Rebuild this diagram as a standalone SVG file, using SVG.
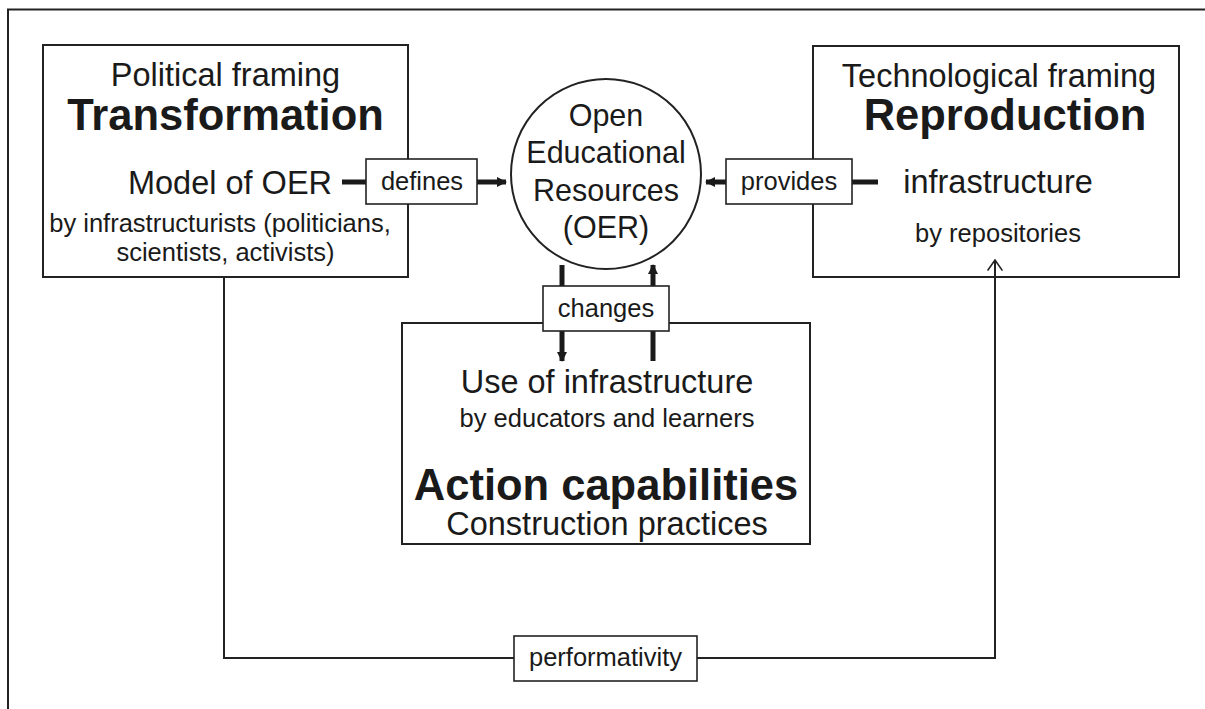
<svg xmlns="http://www.w3.org/2000/svg" width="1205" height="709" viewBox="0 0 1205 709">
  <defs>
    <style>
      text { font-family: "Liberation Sans", Arial, sans-serif; fill: #1a1a1a; text-anchor: middle; }
      .box { fill: #ffffff; stroke: #222222; stroke-width: 2; }
      .label { fill: #ffffff; stroke: #222222; stroke-width: 1.6; }
      .thick { fill: none; stroke: #1a1a1a; stroke-width: 5; }
      .thin { fill: none; stroke: #222222; stroke-width: 2; }
      .big { font-size: 43.5px; font-weight: bold; }
      .mid { font-size: 32.5px; }
      .small { font-size: 25.5px; }
    </style>
    <marker id="solidHead" viewBox="0 0 10 10" refX="9" refY="5" markerWidth="2" markerHeight="2.2" orient="auto" markerUnits="strokeWidth">
      <path d="M0,0 L10,5 L0,10 Z" fill="#1a1a1a"/>
    </marker>
    <marker id="openHead" viewBox="0 0 12 16" refX="11" refY="8" markerWidth="6.5" markerHeight="8.5" orient="auto" markerUnits="strokeWidth">
      <path d="M1,1 L11,8 L1,15" fill="none" stroke="#222222" stroke-width="1.5"/>
    </marker>
  </defs>

  <rect width="1205" height="709" fill="#ffffff"/>

  <!-- outer frame (top and left edges only) -->
  <path d="M8,709 L8,9.5 L1205,9.5" fill="none" stroke="#222222" stroke-width="2"/>

  <g id="political">
    <rect class="box" x="43" y="45" width="365" height="232"/>
    <text class="mid" x="225.5" y="86">Political framing</text>
    <text class="big" x="225.5" y="130">Transformation</text>
    <text class="mid" x="230" y="194">Model of OER</text>
    <text class="small" x="220" y="232">by infrastructurists (politicians,</text>
    <text class="small" x="225.5" y="261">scientists, activists)</text>
  </g>

  <g id="technological">
    <rect class="box" x="813" y="46" width="366" height="231"/>
    <text class="mid" x="999" y="87">Technological framing</text>
    <text class="big" x="1005" y="130">Reproduction</text>
    <text class="mid" x="998" y="193">infrastructure</text>
    <text class="small" x="998" y="242">by repositories</text>
  </g>

  <g id="oer">
    <circle cx="606" cy="174" r="95" fill="#ffffff" stroke="#222222" stroke-width="2"/>
    <text class="mid" x="606" y="126" style="font-size:30.5px">Open</text>
    <text class="mid" x="606" y="163" style="font-size:30.5px">Educational</text>
    <text class="mid" x="606" y="201" style="font-size:30.5px">Resources</text>
    <text class="mid" x="606" y="238" style="font-size:30.5px">(OER)</text>
  </g>

  <g id="action">
    <rect class="box" x="402" y="323" width="408" height="221"/>
    <text class="mid" x="607" y="393">Use of infrastructure</text>
    <text class="small" x="607" y="427">by educators and learners</text>
    <text class="big" x="606" y="500">Action capabilities</text>
    <text class="mid" x="607" y="535">Construction practices</text>
  </g>

  <!-- connectors -->
  <g id="connectors">
    <!-- performativity loop -->
    <path class="thin" d="M224,277 L224,658 L995,658 L995,260" marker-end="url(#openHead)"/>
    <!-- defines -->
    <path class="thick" d="M342,182 L506,182" marker-end="url(#solidHead)"/>
    <!-- provides -->
    <path class="thick" d="M878,182 L706,182" marker-end="url(#solidHead)"/>
    <!-- changes: down -->
    <path class="thick" d="M562,265 L562,361" marker-end="url(#solidHead)"/>
    <!-- changes: up -->
    <path class="thick" d="M653,361 L653,265" marker-end="url(#solidHead)"/>
  </g>

  <g id="label-defines">
    <rect class="label" x="366" y="159" width="111" height="45"/>
    <text class="small" x="422" y="190">defines</text>
  </g>

  <g id="label-provides">
    <rect class="label" x="726" y="159" width="126" height="45"/>
    <text class="small" x="789" y="190">provides</text>
  </g>

  <g id="label-changes">
    <rect class="label" x="543" y="286" width="126" height="45"/>
    <text class="small" x="606" y="317">changes</text>
  </g>

  <g id="label-performativity">
    <rect class="label" x="514" y="636" width="183" height="45"/>
    <text class="small" x="605.5" y="666">performativity</text>
  </g>
</svg>
